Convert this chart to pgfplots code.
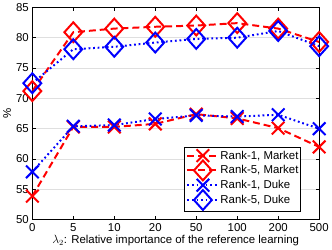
\documentclass[border=0pt]{standalone}
\usepackage{fontspec}
\setmainfont{Liberation Sans}
\usepackage{pgfplots}
\pgfplotsset{compat=1.18}
\begin{document}
\begin{tikzpicture}
\begin{axis}[
  scale only axis, width=289pt, height=214pt,
  xmin=0, xmax=7, ymin=50, ymax=85,
  xtick={0,1,2,3,4,5,6,7},
  xticklabels={0,5,10,20,50,100,200,500},
  ytick={50,55,60,65,70,75,80,85},
  ymajorgrids, grid style={gray!25, line width=0.8pt},
  axis line style={line width=1pt},
  tick style={black, line width=0.8pt},
  tick align=inside,
  major tick length=3.5pt,
  font=\fontsize{11.5}{13}\selectfont,
  /pgf/number format/assume math mode=true,
  xlabel={$\lambda_2$: Relative importance of the reference learning},
  ylabel={\%},
  xlabel style={yshift=3pt},
  ylabel style={yshift=-2pt},
  legend style={at={(0.938,0.037)}, anchor=south east, draw=black, line width=0.9pt, font=\fontsize{11.5}{12}\selectfont, row sep=-2pt, inner sep=1.5pt, nodes={inner xsep=1pt}},
  legend cell align=left,
  legend image code/.code={\draw[mark repeat=2,mark phase=2] plot coordinates {(0cm,0cm) (0.55cm,0cm) (1.1cm,0cm)};},
  every axis plot/.append style={line width=2pt},
  mkt/.style={red, dash pattern=on 7pt off 4pt},
  duke/.style={blue, dash pattern=on 1.8pt off 2.8pt},
  xm/.style={mark=x, mark size=9pt, mark options={solid}},
  dm/.style={mark=diamond, mark size=10pt, mark options={solid, xscale=1.2}},
]
\addplot[mkt, xm] coordinates {(0,53.9) (1,65.3) (2,65.3) (3,65.8) (4,67.4) (5,66.7) (6,65.1) (7,62.0)};
\addlegendentry{Rank-1, Market}
\addplot[mkt, dm] coordinates {(0,71.2) (1,80.9) (2,81.5) (3,81.8) (4,82.0) (5,82.4) (6,81.5) (7,79.3)};
\addlegendentry{Rank-5, Market}
\addplot[duke, xm] coordinates {(0,57.9) (1,65.4) (2,65.6) (3,66.6) (4,67.2) (5,67.0) (6,67.3) (7,65.0)};
\addlegendentry{Rank-1, Duke}
\addplot[duke, dm] coordinates {(0,72.5) (1,78.1) (2,78.5) (3,79.2) (4,79.8) (5,80.0) (6,81.1) (7,78.6)};
\addlegendentry{Rank-5, Duke}
\end{axis}
\end{tikzpicture}
\end{document}
